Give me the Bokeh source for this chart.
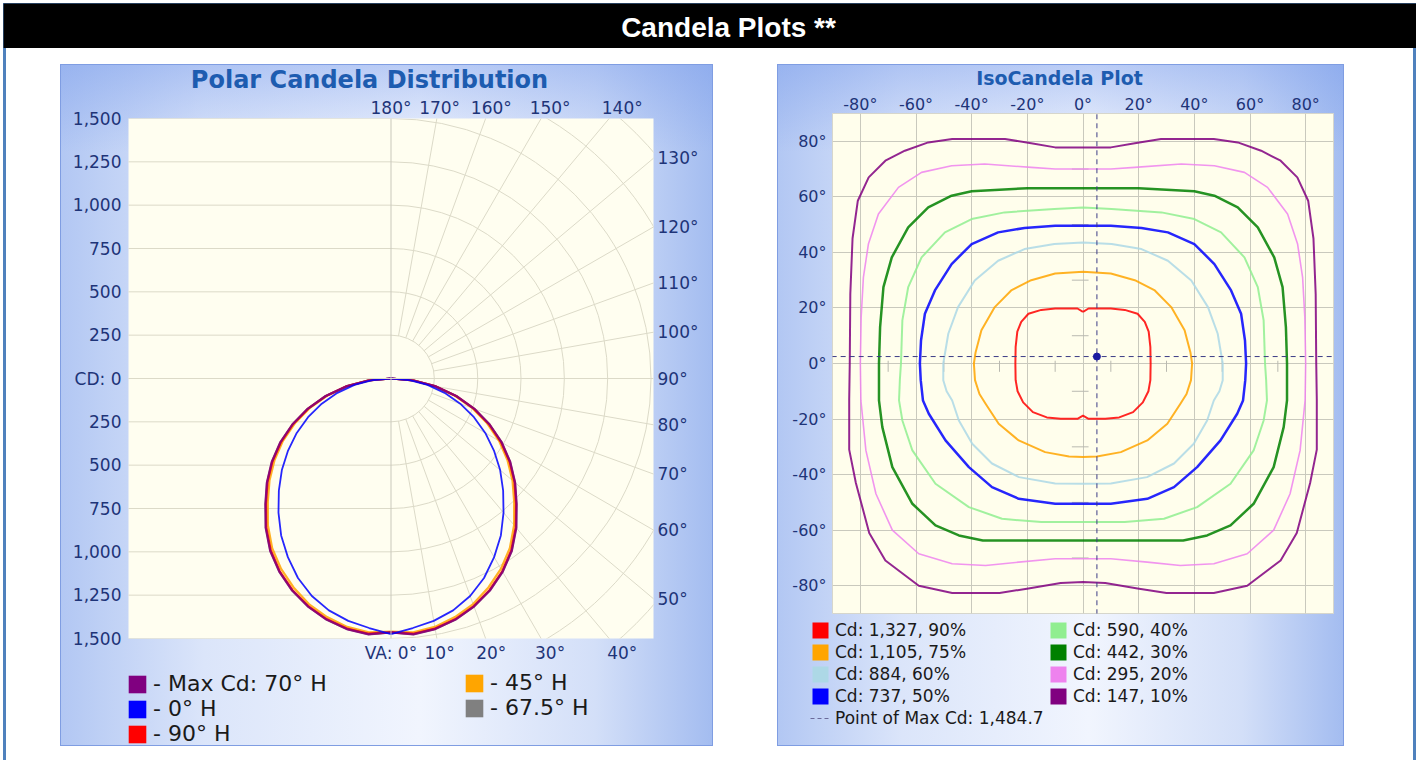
import math
from bokeh.plotting import figure
from bokeh.layouts import column, row
from bokeh.models import (FixedTicker, LinearAxis, Span, Label, Legend, LegendItem,
                          Spacer, Range1d, Plot)
from bokeh.embed import file_html
from bokeh.resources import INLINE

# ---------------- data : polar candela distribution ----------------
va_angles = [0, 5, 10, 15, 20, 25, 30, 35, 40, 45, 50, 55, 60, 65, 70, 75, 80, 85, 90]
cd_max_70h = [1465, 1482, 1468, 1440, 1400, 1350, 1288, 1215, 1125, 1025, 935, 840, 738, 628, 512, 390, 263, 132, 0]
cd_0h      = [1475, 1445, 1420, 1385, 1335, 1270, 1190, 1105, 1010, 915, 822, 725, 628, 528, 425, 320, 214, 107, 0]
cd_90h     = [1465, 1478, 1465, 1437, 1397, 1346, 1284, 1210, 1120, 1020, 930, 835, 733, 624, 509, 388, 261, 131, 0]
cd_45h     = [1460, 1470, 1455, 1425, 1385, 1330, 1268, 1195, 1105, 1005, 915, 820, 720, 612, 500, 380, 256, 128, 0]
cd_67_5h   = [1465, 1480, 1467, 1439, 1399, 1349, 1287, 1213, 1123, 1023, 933, 838, 736, 626, 511, 389, 262, 131, 0]

polar_labels = ["- Max Cd: 70° H", "- 0° H", "- 90° H", "- 45° H", "- 67.5° H"]
polar_colors = ["#800080", "#0000ff", "#ff0000", "#ffa500", "#808080"]

cd_ticks = [-1500, -1250, -1000, -750, -500, -250, 0, 250, 500, 750, 1000, 1250, 1500]
top_angles = [180, 170, 160, 150, 140]
right_angles = [130, 120, 110, 100, 90, 80, 70, 60, 50]
bottom_angles = [0, 10, 20, 30, 40]
grid_radii = [250, 500, 750, 1000, 1250, 1500, 1750, 2000, 2250]
radial_angles = [10, 20, 30, 40, 50, 60, 70, 80, 100, 110, 120, 130, 140, 150, 160, 170]

# ---------------- data : isocandela plot (right half of each contour, top -> bottom) ----------------
iso_labels = ["Cd: 1,327, 90%", "Cd: 1,105, 75%", "Cd: 884, 60%", "Cd: 737, 50%",
              "Cd: 590, 40%", "Cd: 442, 30%", "Cd: 295, 20%", "Cd: 147, 10%"]
iso_colors = ["#ff0000", "#ffa500", "#add8e6", "#0000ff", "#90ee90", "#008000", "#ee82ee", "#800080"]
iso_widths = [2, 2, 2, 2.5, 2, 2.5, 1.6, 2]

iso90_x = [0, 2, 10, 15, 19.6, 22.2, 23.6, 24.2, 24.3, 24.2, 23.5, 21.5, 18, 13, 8, 2, 0]
iso90_y = [18.6, 19.8, 19.8, 19.3, 17.9, 15, 11.5, 6, 0, -6, -10, -14, -17.5, -19.4, -19.9, -19.9, -18.8]
iso75_x = [0, 10, 18.6, 25.8, 31.7, 36.5, 38.6, 39.2, 38.8, 37.2, 35, 30.3, 23.1, 13.6, 5, 0]
iso75_y = [33, 32.4, 30, 26.3, 20.3, 12, 4, 0, -6, -11, -14.5, -21.7, -27.7, -31.9, -33.5, -33.7]
iso60_x = [0, 10.3, 21, 30.5, 38.9, 44.9, 48.4, 50.2, 50.2, 49, 47, 44.6, 39.8, 32.7, 23, 10, 0]
iso60_y = [43.6, 43, 41.2, 37, 29.9, 20.3, 10.7, 0, -6, -10, -13.3, -20.5, -28.9, -36, -40.9, -43.2, -43.3]
iso50_x = [0, 10, 21, 30.5, 40, 47.2, 53.2, 56.8, 58.2, 58.6, 58.3, 57.5, 55.4, 49.4, 41, 32.7, 23.1, 10, 0]
iso50_y = [49.6, 49.6, 48.8, 47.2, 43, 35.8, 26.3, 17.9, 8.3, 0, -6, -13.3, -18.1, -27.7, -37.3, -44.5, -48.7, -50.5, -50.5]
iso40_x = [0, 10.3, 28.2, 40, 49.6, 58, 62.8, 64.9, 65.4, 65.8, 66.1, 64.9, 61.3, 53, 41, 29.1, 15, 0]
iso40_y = [56.2, 55.6, 54.4, 52, 47.2, 38.2, 27.5, 15.5, 0, -6, -13.3, -20.5, -31.3, -43.3, -51.7, -55.9, -57.1, -57.1]
iso30_x = [0, 20, 40, 47.2, 55.6, 62.8, 68.7, 71.7, 72.9, 73.3, 73.3, 72.1, 68.5, 61.3, 53, 44.6, 36, 20, 0]
iso30_y = [63.1, 63.1, 62, 60.4, 56.2, 49, 38.2, 27.5, 13.1, 0, -13.3, -22.9, -37.3, -50.5, -58.3, -61.9, -63.7, -63.7, -63.7]
iso20_x = [0, 10, 18.6, 35.3, 47.2, 58, 66.3, 73.5, 77.1, 78.9, 79.7, 80, 79.8, 78, 74.4, 68.5, 59, 47, 35, 23.1, 10, 0]
iso20_y = [70, 70, 70.6, 71.8, 71.2, 68.8, 63.4, 53.8, 43, 31, 16.7, 0, -13.3, -31.3, -46.9, -60, -68.5, -72.1, -72.7, -71.5, -70.3, -70.3]
iso10_x = [0, 10, 18.6, 28, 47, 55.6, 64, 71, 77, 80.9, 82.8, 83.6, 83.8, 84, 84, 81.6, 76.8, 71, 59, 47, 30, 19.6, 8, 0]
iso10_y = [77.8, 77.8, 79.3, 80.8, 80.8, 79.6, 76.6, 73, 67, 58.6, 45, 25, 0, -13, -31, -43, -61, -70.9, -80, -82.6, -82.6, -81, -79, -78.7]

max_point_h = [5.0]
max_point_v = [2.5]
max_point_label = "Point of Max Cd: 1,484.7"
iso_ticks = [-80, -60, -40, -20, 0, 20, 40, 60, 80]
iso_minor = [-70, -50, -30, -10, 10, 30, 50, 70]

# ---------------- styles ----------------
FONT = "DejaVu Sans"
AXIS_COL = "#1e3478"
TITLE_COL = "#1d5cb0"
GRID_COL = "#dcdac8"
PANEL_STYLE = {
    "background": "linear-gradient(180deg, rgba(120,155,235,0.45) 0%, rgba(120,155,235,0) 13%),"
                  "linear-gradient(90deg, #b2c7f3 0%, #dbe5fa 22%, #f1f5fe 55%, #d3dff8 82%, #a3bcf0 100%)",
    "outline": "1px solid #7f9de2",
    "outline-offset": "-1px",
}
HAS_FA = "frame_align" in Plot.properties()
FA = {"frame_align": False} if HAS_FA else {}


def style_axis(ax, size, standoff):
    ax.axis_line_color = None
    ax.major_tick_line_color = None
    ax.minor_tick_line_color = None
    ax.major_tick_out = 0
    ax.major_tick_in = 0
    ax.minor_tick_out = 0
    ax.minor_tick_in = 0
    ax.major_label_text_font = FONT
    ax.major_label_text_font_size = size
    ax.major_label_text_color = AXIS_COL
    ax.major_label_standoff = standoff


def blank_fig(w, h, x0, x1):
    # x range expressed in page pixels, so labels / legends can be placed by page position
    f = figure(width=w, height=h, x_range=Range1d(x0, x1), y_range=Range1d(0, h), min_border=0,
               toolbar_location=None, output_backend="svg", background_fill_alpha=0,
               border_fill_alpha=0, outline_line_color=None, **FA)
    f.axis.visible = False
    f.grid.visible = False
    return f


def make_legend(items, loc, size, gw, gh, lh, spacing, standoff):
    return Legend(items=items, location=loc, orientation="vertical",
                  background_fill_alpha=0, border_line_color=None, padding=0, margin=0,
                  spacing=spacing, glyph_width=gw, glyph_height=gh, label_height=lh,
                  label_standoff=standoff, label_text_font=FONT,
                  label_text_font_size=size, label_text_color="#1a1a1a")


# page geometry of the two panels and their frames
L_PANEL = (60, 713)
L_FRAME = (128, 653)
R_PANEL = (777, 1344)
R_FRAME = (832, 1333)
L_ORG = L_PANEL if HAS_FA else L_FRAME
R_ORG = R_PANEL if HAS_FA else R_FRAME

# ================= left : polar candela distribution =================
XR = 1514.4
YR = 1500
LBL_R = 1590  # radius at which the outer angle labels sit (top / bottom)
pL = figure(width=653, height=571, x_range=Range1d(-XR, XR), y_range=Range1d(-YR, YR),
            min_border_left=68, min_border_right=60, min_border_top=24, min_border_bottom=27,
            toolbar_location=None, output_backend="svg",
            background_fill_color="#fffef0", border_fill_alpha=0, outline_line_color=None)
pL.xgrid.visible = False
pL.ygrid.visible = False

pL.yaxis.ticker = FixedTicker(ticks=cd_ticks)
pL.yaxis.major_label_overrides = {t: ("CD: 0" if t == 0 else f"{abs(t):,}") for t in cd_ticks}
style_axis(pL.yaxis[0], "17px", 7)

bottom_pos = [round(LBL_R * math.tan(math.radians(a)), 1) for a in bottom_angles]
pL.xaxis.ticker = FixedTicker(ticks=bottom_pos)
pL.xaxis.major_label_overrides = {p: ("VA: 0°" if a == 0 else f"{a}°") for p, a in zip(bottom_pos, bottom_angles)}
style_axis(pL.xaxis[0], "17px", 4)

top_pos = [round(LBL_R * math.tan(math.radians(180 - a)), 1) for a in top_angles]
ax_top = LinearAxis(ticker=FixedTicker(ticks=top_pos),
                    major_label_overrides={p: f"{a}°" for p, a in zip(top_pos, top_angles)})
style_axis(ax_top, "17px", 1)
pL.add_layout(ax_top, "above")

right_pos = [round(XR * math.tan(math.radians(a - 90)), 1) for a in right_angles]
ax_right = LinearAxis(ticker=FixedTicker(ticks=right_pos),
                      major_label_overrides={p: f"{a}°" for p, a in zip(right_pos, right_angles)})
style_axis(ax_right, "17px", 4)
pL.add_layout(ax_right, "right")

# grid: horizontal lines on the left half, polar grid on the right half
pL.segment(x0=-2 * XR, y0=cd_ticks, x1=0, y1=cd_ticks, line_color=GRID_COL, line_width=1)
pL.add_layout(Span(location=0, dimension="height", line_color="#c9c8bb", line_width=1))
pL.add_layout(Span(location=0, dimension="width", line_color=GRID_COL, line_width=1))
pL.arc(x=0, y=0, radius=grid_radii, start_angle=-math.pi / 2, end_angle=math.pi / 2,
       direction="anticlock", line_color=GRID_COL, line_width=1)
r0, r1 = grid_radii[0], 3000
rx0 = [r0 * math.sin(math.radians(a)) for a in radial_angles]
ry0 = [-r0 * math.cos(math.radians(a)) for a in radial_angles]
rx1 = [r1 * math.sin(math.radians(a)) for a in radial_angles]
ry1 = [-r1 * math.cos(math.radians(a)) for a in radial_angles]
pL.segment(x0=rx0, y0=ry0, x1=rx1, y1=ry1, line_color=GRID_COL, line_width=1)


def polar_loop(vals):
    xs, ys = [], []
    for a, v in zip(va_angles, vals):
        t = math.radians(a)
        xs.append(v * math.sin(t)); ys.append(-v * math.cos(t))
    for a, v in zip(reversed(va_angles), reversed(vals)):
        t = math.radians(a)
        xs.append(-v * math.sin(t)); ys.append(-v * math.cos(t))
    return xs, ys


series = [cd_max_70h, cd_0h, cd_90h, cd_45h, cd_67_5h]
for i in [3, 4, 2, 0, 1]:
    xs, ys = polar_loop(series[i])
    pL.line(xs, ys, line_color=polar_colors[i], line_width=2.2 if i != 1 else 1.8,
            line_alpha=0.85, line_join="round")

tL = blank_fig(653, 30, *L_ORG)
tL.add_layout(Label(x=369, y=15, text="Polar Candela Distribution", text_align="center",
                    text_baseline="middle", text_font=FONT, text_font_style="bold",
                    text_font_size="24px", text_color=TITLE_COL))

lL = blank_fig(653, 81, *L_ORG)
OFF = -1000
sq_L = [lL.quad(left=[OFF], right=[OFF + 1], top=[OFF + 1], bottom=[OFF], fill_color=c, line_color=None)
        for c in polar_colors]
lL.add_layout(make_legend([LegendItem(label=polar_labels[i], renderers=[sq_L[i]]) for i in (0, 1, 2)],
                          (126 - L_ORG[0], 0), "22px", 22, 22, 25, 0, 5))
lL.add_layout(make_legend([LegendItem(label=polar_labels[i], renderers=[sq_L[i]]) for i in (3, 4)],
                          (463 - L_ORG[0], 26), "22px", 22, 22, 25, 0, 5))

panelL = column(tL, pL, lL, styles=PANEL_STYLE)

# ================= right : isocandela plot =================
pR = figure(width=567, height=525, x_range=Range1d(-90, 90), y_range=Range1d(-90, 90),
            x_axis_location="above",
            min_border_left=55, min_border_right=11, min_border_top=22, min_border_bottom=3,
            toolbar_location=None, output_backend="svg",
            background_fill_color="#fffeec", border_fill_alpha=0, outline_line_color="#d6d6cc")
pR.xaxis.ticker = FixedTicker(ticks=iso_ticks)
pR.xaxis.major_label_overrides = {t: f"{t}°" for t in iso_ticks}
style_axis(pR.xaxis[0], "16px", 0)
pR.yaxis.ticker = FixedTicker(ticks=iso_ticks)
pR.yaxis.major_label_overrides = {t: f"{t}°" for t in iso_ticks}
style_axis(pR.yaxis[0], "16px", 6)
pR.xgrid.ticker = FixedTicker(ticks=iso_ticks)
pR.ygrid.ticker = FixedTicker(ticks=iso_ticks)
pR.grid.grid_line_color = "#c9c9bd"
pR.grid.grid_line_width = 1

pR.segment(x0=iso_minor, y0=-3, x1=iso_minor, y1=1, line_color="#b9b9b0", line_width=1)
pR.segment(x0=-4, y0=iso_minor, x1=2, y1=iso_minor, line_color="#b9b9b0", line_width=1)


def mirror_loop(xs, ys):
    X = list(xs) + [-v for v in reversed(xs)]
    Y = list(ys) + list(reversed(ys))
    return X, Y


iso_shapes = [(iso90_x, iso90_y), (iso75_x, iso75_y), (iso60_x, iso60_y), (iso50_x, iso50_y),
              (iso40_x, iso40_y), (iso30_x, iso30_y), (iso20_x, iso20_y), (iso10_x, iso10_y)]
for (xs, ys), c, w in zip(iso_shapes, iso_colors, iso_widths):
    X, Y = mirror_loop(xs, ys)
    pR.line(X, Y, line_color=c, line_width=w, line_alpha=0.85, line_join="round")

pR.segment(x0=[-100, max_point_h[0]], y0=[max_point_v[0], -100],
           x1=[100, max_point_h[0]], y1=[max_point_v[0], 100],
           line_color="#3b3b86", line_width=1, line_dash="5 4")
pR.scatter(max_point_h, max_point_v, size=7, marker="circle", fill_color="#1a1aa0", line_color="#1a1aa0")

tR = blank_fig(567, 27, *R_ORG)
tR.add_layout(Label(x=1059, y=14, text="IsoCandela Plot", text_align="center",
                    text_baseline="middle", text_font=FONT, text_font_style="bold",
                    text_font_size="19px", text_color=TITLE_COL))

lR = blank_fig(567, 130, *R_ORG)
sq_R = [lR.quad(left=[OFF], right=[OFF + 1], top=[OFF + 1], bottom=[OFF], fill_color=c, line_color=None)
        for c in iso_colors]
dash_r = lR.segment(x0=[OFF], y0=[OFF], x1=[OFF + 1], y1=[OFF], line_color="#6a6a9a",
                    line_width=1, line_dash="4 3")
legR1_items = [LegendItem(label=iso_labels[i], renderers=[sq_R[i]]) for i in range(4)]
legR1_items.append(LegendItem(label=max_point_label, renderers=[dash_r]))
lR.add_layout(make_legend(legR1_items, (810 - R_ORG[0], 18), "17px", 20, 20, 20, 2, 5))
lR.add_layout(make_legend([LegendItem(label=iso_labels[i], renderers=[sq_R[i]]) for i in range(4, 8)],
                          (1048 - R_ORG[0], 40), "17px", 20, 20, 20, 2, 5))

panelR = column(tR, pR, lR, styles=PANEL_STYLE)

# ================= header & page layout =================
header = figure(width=1413, height=45, x_range=Range1d(0, 1413), y_range=Range1d(0, 45),
                min_border=0, toolbar_location=None, output_backend="svg",
                background_fill_color="#000000", border_fill_color="#000000",
                outline_line_color=None,
                styles={"outline": "3px solid #4f81bd", "outline-offset": "-3px"})
header.axis.visible = False
header.grid.visible = False
header.add_layout(Label(x=725, y=21, text="Candela Plots **", text_align="center",
                        text_baseline="middle", text_font="Liberation Sans",
                        text_font_style="bold", text_font_size="28px", text_color="#ffffff"))

BLUE = {"background-color": "#4f81bd"}
body = row(Spacer(width=3, height=712), Spacer(width=3, height=712, styles=BLUE),
           Spacer(width=54, height=712),
           column(Spacer(width=653, height=16), panelL),
           Spacer(width=64, height=712),
           column(Spacer(width=567, height=16), panelR),
           Spacer(width=69, height=712), Spacer(width=3, height=712, styles=BLUE))
page = column(Spacer(width=1416, height=3), row(Spacer(width=3, height=45), header), body)

open("out.html", "w").write(file_html(page, INLINE))
